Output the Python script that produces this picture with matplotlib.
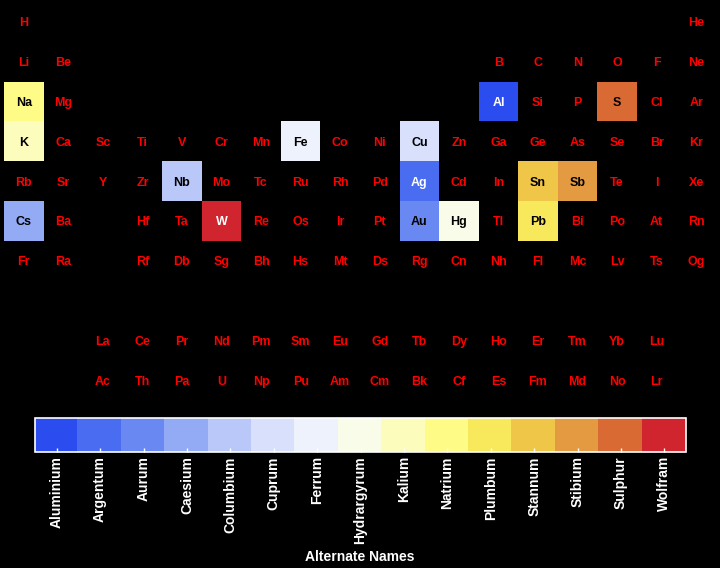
import matplotlib
matplotlib.use("Agg")
import matplotlib.pyplot as plt
from matplotlib.colors import ListedColormap, BoundaryNorm, to_rgb
from matplotlib.cm import ScalarMappable
import numpy as np

# ---- data ----
table_rows = [
    "H . . . . . . . . . . . . . . . . He",
    "Li Be . . . . . . . . . . B C N O F Ne",
    "Na Mg . . . . . . . . . . Al Si P S Cl Ar",
    "K Ca Sc Ti V Cr Mn Fe Co Ni Cu Zn Ga Ge As Se Br Kr",
    "Rb Sr Y Zr Nb Mo Tc Ru Rh Pd Ag Cd In Sn Sb Te I Xe",
    "Cs Ba . Hf Ta W Re Os Ir Pt Au Hg Tl Pb Bi Po At Rn",
    "Fr Ra . Rf Db Sg Bh Hs Mt Ds Rg Cn Nh Fl Mc Lv Ts Og",
    ". . . . . . . . . . . . . . . . . .",
    ". . La Ce Pr Nd Pm Sm Eu Gd Tb Dy Ho Er Tm Yb Lu .",
    ". . Ac Th Pa U Np Pu Am Cm Bk Cf Es Fm Md No Lr .",
]

alt_names = ["Aluminium", "Argentum", "Aurum", "Caesium", "Columbium",
             "Cuprum", "Ferrum", "Hydrargyrum", "Kalium", "Natrium",
             "Plumbum", "Stannum", "Stibium", "Sulphur", "Wolfram"]
alt_symbols = ["Al", "Ag", "Au", "Cs", "Nb", "Cu", "Fe", "Hg", "K", "Na",
               "Pb", "Sn", "Sb", "S", "W"]
palette = ["#2B4CEE", "#4A6CF0", "#6A88F2", "#93AAF4", "#B9C8F8",
           "#D8E0FB", "#EEF2FC", "#F8FCE8", "#FCFCBC", "#FEFC86",
           "#F8E85C", "#F0C648", "#E49A40", "#DA6A34", "#D0242E"]

symbols, groups, periods = [], [], []
for r, line in enumerate(table_rows, start=1):
    for c, s in enumerate(line.split(), start=1):
        if s != ".":
            symbols.append(s)
            groups.append(c)
            periods.append(r)

# ---- figure ----
W, H = 720, 568
fig = plt.figure(figsize=(W / 100, H / 100), dpi=100, facecolor="black")
ax = fig.add_axes([4 / W, (H - 400) / H, 712 / W, 398 / H])
ax.set_facecolor("black")
ax.set_xlim(0.5, 18.5)
ax.set_ylim(10.5, 0.5)
ax.axis("off")

font = ["Liberation Sans", "DejaVu Sans"]

cmap_lookup = dict(zip(alt_symbols, palette))
for s, g, p in zip(symbols, groups, periods):
    if s in cmap_lookup:
        col = cmap_lookup[s]
        ax.bar(g, 1, bottom=p - 0.5, width=1, color=col, linewidth=0)
        rr, gg, bb = to_rgb(col)
        lum = 0.299 * rr + 0.587 * gg + 0.114 * bb
        tc = "white" if lum < 0.47 else "black"
    else:
        tc = "#FF0000"
    ax.text(g, p + 0.115, s, ha="center", va="baseline", color=tc,
            fontsize=9, fontweight="bold", family=font)

# ---- colorbar ----
cax = fig.add_axes([35 / W, (H - 452) / H, 651 / W, 34 / H])
n = len(palette)
cmap = ListedColormap(palette)
norm = BoundaryNorm(np.arange(n + 1), n)
cb = fig.colorbar(ScalarMappable(norm=norm, cmap=cmap), cax=cax,
                  orientation="horizontal", ticks=np.arange(n) + 0.5)
cb.solids.set_edgecolor("face")
cb.outline.set_edgecolor("white")
cb.outline.set_linewidth(1.2)
cax.set_xticklabels(alt_names, rotation=90, family=font, fontweight="bold",
                    fontsize=10, color="white")
cax.tick_params(axis="x", direction="in", length=3, width=1, color="white",
                pad=3, bottom=True, top=False)
cax.minorticks_off()

fig.text(360 / W, 1 - 557 / H, "Alternate Names", ha="center", va="center",
         color="white", fontsize=10, fontweight="bold", family=font)

fig.savefig("out.png", dpi=100, facecolor="black")
